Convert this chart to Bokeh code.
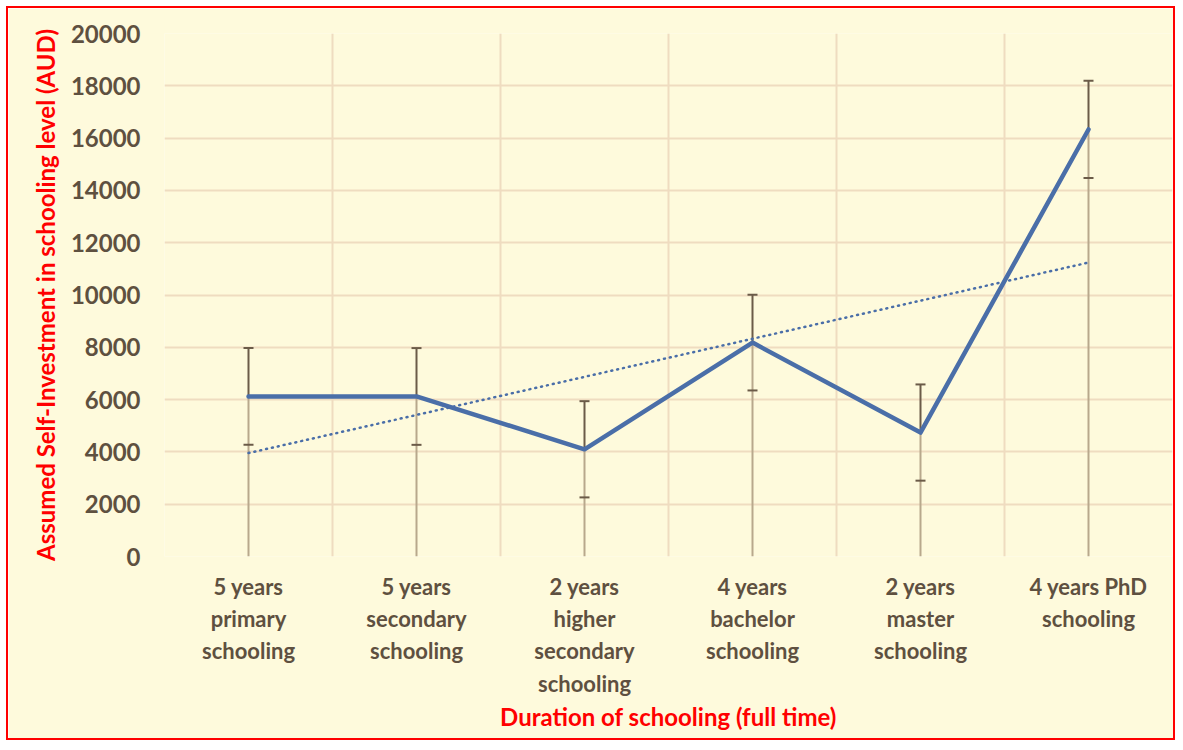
from bokeh.plotting import figure
from bokeh.models import FixedTicker, ColumnDataSource
from bokeh.embed import file_html
from bokeh.resources import INLINE
import numpy as np

categories = [
    "5 years\nprimary\nschooling",
    "5 years\nsecondary\nschooling",
    "2 years\nhigher\nsecondary\nschooling",
    "4 years\nbachelor\nschooling",
    "2 years\nmaster\nschooling",
    "4 years PhD\nschooling",
]
investment = [6120, 6120, 4100, 8180, 4740, 16330]
error = [1850, 1850, 1840, 1830, 1840, 1860]
y_ticks = [0, 2000, 4000, 6000, 8000, 10000, 12000, 14000, 16000, 18000, 20000]

FONT = "Lato"
TEXT = "#5E5040"
LINE = "#4A6EA8"

xs = list(range(1, len(categories) + 1))
x_arr = np.array(xs, dtype=float)
y_arr = np.array(investment, dtype=float)
slope, intercept = np.polyfit(x_arr, y_arr, 1)
trend = list(slope * x_arr + intercept)

src = ColumnDataSource(dict(
    x=xs, y=investment,
    zero=[0] * len(xs),
    up=[v + e for v, e in zip(investment, error)],
    lo=[v - e for v, e in zip(investment, error)],
))

p = figure(width=1169, height=734, x_range=(0.5, 6.5), y_range=(0, 20000),
           output_backend="svg", toolbar_location=None,
           min_border_left=156, min_border_right=5, min_border_top=25, min_border_bottom=186)
p.background_fill_color = "#FEFADC"
p.border_fill_color = "#FEFADC"
p.outline_line_color = None
p.styles = {"border": "2px solid #FF0000", "margin-left": "6px", "margin-top": "6px"}

# grids
p.xgrid.ticker = FixedTicker(ticks=[0.5 + i for i in range(len(categories) + 1)])
p.ygrid.ticker = FixedTicker(ticks=y_ticks)
p.xgrid.grid_line_color = "#EFDCC0"
p.ygrid.grid_line_color = "#EFDCC0"
p.xgrid.grid_line_width = 2
p.ygrid.grid_line_width = 2

# axes
p.xaxis.ticker = FixedTicker(ticks=xs)
p.xaxis.major_label_overrides = {x: c for x, c in zip(xs, categories)}
p.yaxis.ticker = FixedTicker(ticks=y_ticks)
for ax in (p.xaxis[0], p.yaxis[0]):
    ax.axis_line_color = None
    ax.major_tick_line_color = None
    ax.minor_tick_line_color = None
    ax.major_label_text_font = FONT
    ax.major_label_text_font_style = "bold"
    ax.major_label_text_color = TEXT
    ax.axis_label_text_font = FONT
    ax.axis_label_text_font_style = "bold"
    ax.axis_label_text_color = "#FF0000"
p.xaxis.major_label_text_font_size = "22px"
p.yaxis.major_label_text_font_size = "24px"
p.xaxis.axis_label_text_font_size = "24px"
p.yaxis.axis_label_text_font_size = "24px"
p.xaxis.major_label_standoff = 10
p.yaxis.major_label_standoff = 18
p.xaxis.axis_label = "Duration of schooling (full time)"
p.yaxis.axis_label = "Assumed Self-Investment in schooling level (AUD)"
p.xaxis.axis_label_standoff = 2
p.yaxis.axis_label_standoff = 8

# drop lines
p.segment(x0="x", y0="zero", x1="x", y1="y", source=src, line_color="#B8A88C", line_width=2)
# upper error segment
p.segment(x0="x", y0="y", x1="x", y1="up", source=src, line_color="#6B5B48", line_width=2)
# caps
p.scatter(x="x", y="up", source=src, marker="dash", size=10, line_color="#6B5B48", line_width=2)
p.scatter(x="x", y="lo", source=src, marker="dash", size=10, line_color="#6B5B48", line_width=2)

# main series
p.line(x="x", y="y", source=src, line_color=LINE, line_width=4.5, line_join="round", line_cap="round")
# linear trend
p.line(xs, trend, line_color=LINE, line_width=2.5, line_dash="1 5", line_cap="round")

open("out.html", "w").write(file_html(p, INLINE))
